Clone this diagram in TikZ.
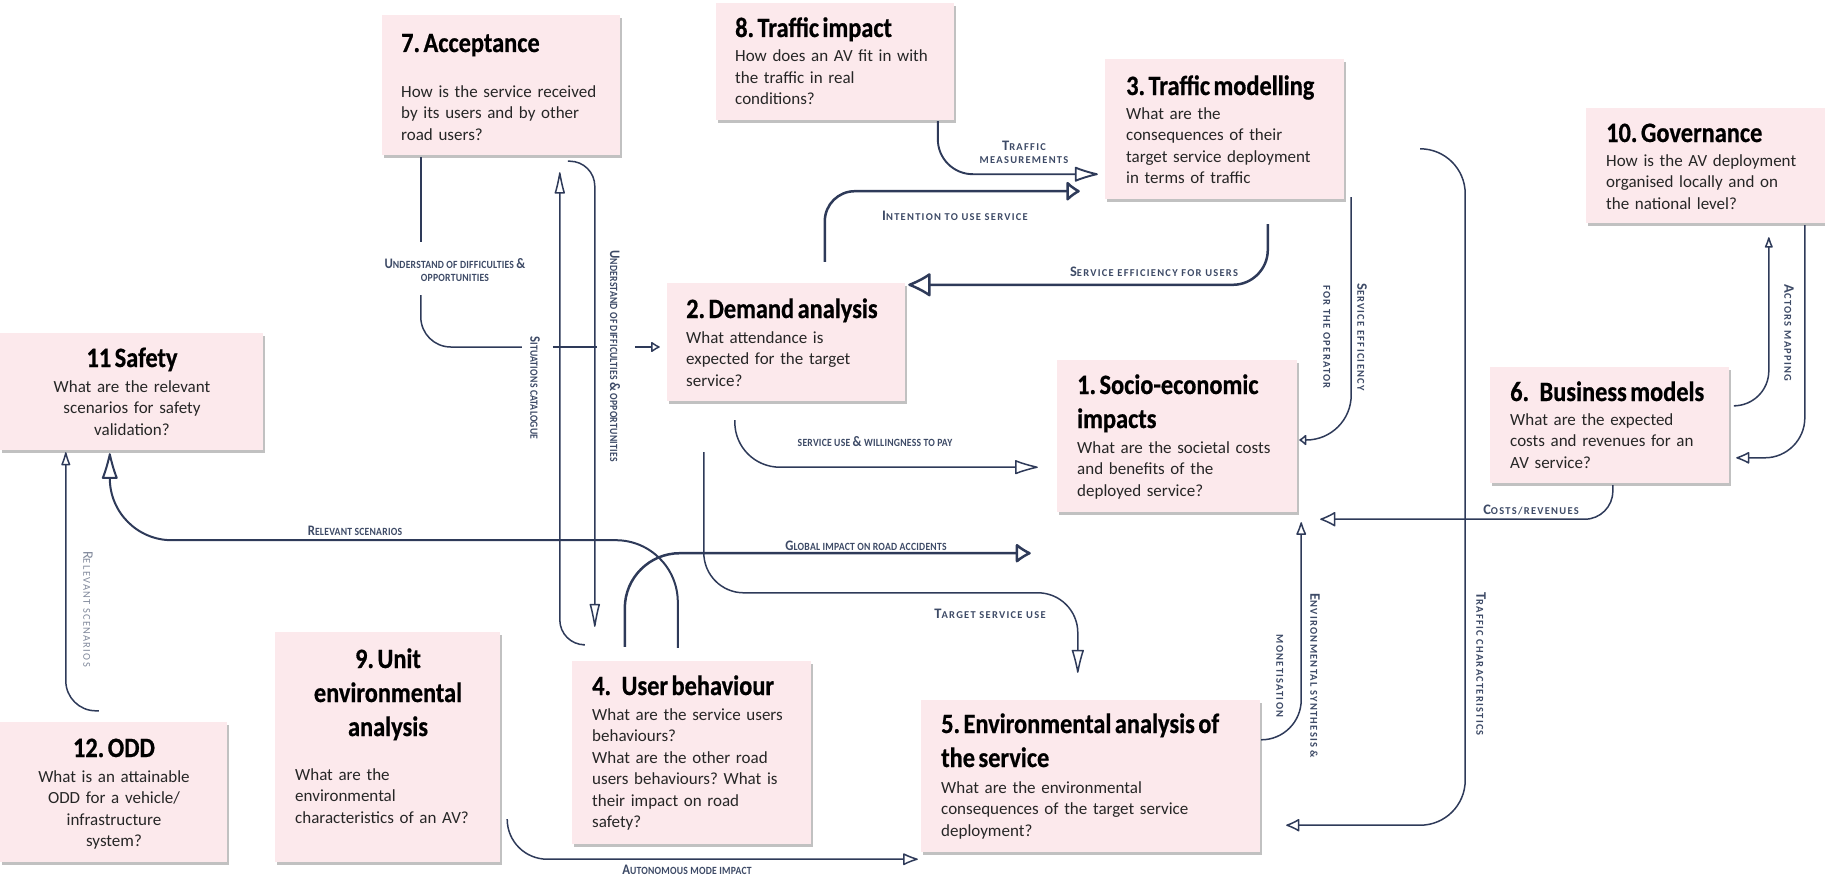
\documentclass[tikz,border=0pt]{standalone}
\usepackage{fontspec}
\setmainfont{Carlito}
\newfontfamily\bodyf{Carlito}
\newfontfamily\titlef[FakeStretch=0.87,FakeBold=0.6]{Carlito}
\newfontfamily\lblcf[FakeStretch=0.88,LetterSpace=2]{Carlito}
\newfontfamily\lblsf[FakeStretch=1.0,LetterSpace=12]{Carlito}
\usetikzlibrary{arrows.meta,shadows,calc}
\definecolor{boxfill}{RGB}{252,233,236}
\definecolor{linec}{RGB}{46,58,89}
\definecolor{labc}{RGB}{61,74,102}
\definecolor{lightlab}{RGB}{130,138,156}
\definecolor{txt}{RGB}{38,38,38}
\frenchspacing
\newcommand\BC[1]{{\fontsize{14.5}{12}\selectfont #1}}
\newcommand\tsp{\hspace{3.5pt}}
\newcommand\titlefont{\titlef\bfseries\fontsize{28}{34}\selectfont}
\begin{document}
\begin{tikzpicture}[x=1pt,y=-1pt,
  box/.style={fill=boxfill, draw=none, inner sep=0pt,
    drop shadow={shadow xshift=1.5pt, shadow yshift=-3pt, opacity=0.35, fill=black!70}},
  titlet/.style={font=\titlefont, text=black, inner sep=0pt, anchor=base west, align=left, text width=340pt},
  titlec/.style={titlet, anchor=base, align=center, text width=240pt},
  bodyt/.style={font=\bodyf\fontsize{17}{21.5}\selectfont\frenchspacing, text=txt, inner sep=0pt, anchor=base west, align=left, text width=320pt},
  bodyc/.style={bodyt, anchor=base, align=center, text width=240pt},
  conn/.style={draw=linec, line width=1.5pt},
  thickc/.style={draw=linec, line width=2.5pt},
  tip/.style args={#1/#2}{-{Latex[open,round,length=#1,width=#2]}},
  lblc/.style={font=\lblcf\bfseries\fontsize{11}{13}\selectfont, text=labc, inner sep=1pt, align=center},
  lbls/.style={font=\lblsf\bfseries\fontsize{10.5}{13}\selectfont, text=labc, inner sep=1pt, align=center},
  lbll/.style={font=\lblsf\fontsize{10.5}{13}\selectfont, text=lightlab, inner sep=1pt, align=center}
]
\useasboundingbox (0,0) rectangle (1825,875);

% ---------- boxes ----------
\node[box, minimum width=238pt, minimum height=140pt] (b7) at (501,85) {};
\node[box, minimum width=238pt, minimum height=117pt] (b8) at (835,61.5) {};
\node[box, minimum width=239pt, minimum height=140pt] (b3) at (1224.5,129) {};
\node[box, minimum width=239pt, minimum height=115pt] (b10) at (1705.5,165.5) {};
\node[box, minimum width=263pt, minimum height=117pt] (b11) at (131.5,391.5) {};
\node[box, minimum width=238pt, minimum height=118pt] (b2) at (786,342) {};
\node[box, minimum width=240pt, minimum height=152pt] (b1) at (1177,436) {};
\node[box, minimum width=239pt, minimum height=116pt] (b6) at (1609.5,425) {};
\node[box, minimum width=225pt, minimum height=230pt] (b9) at (387.5,747) {};
\node[box, minimum width=239pt, minimum height=183pt] (b4) at (691.5,752.5) {};
\node[box, minimum width=339pt, minimum height=152pt] (b5) at (1090.5,776) {};
\node[box, minimum width=227pt, minimum height=140pt] (b12) at (113.5,792) {};

% ---------- texts ----------
\node[titlet] (t7) at (401,52) {7.\tsp Acceptance};
\node[bodyt] (q7) at (401,97) {How is the service received\\by its users and by other\\road users?};
\node[titlet] (t8) at (735,37) {8.\tsp Traffic\tsp impact};
\node[bodyt] (q8) at (735,62) {How does an AV fit in with\\the traffic in real\\conditions?};
\node[titlet] (t3) at (1126,95) {3.\tsp Traffic\tsp modelling};
\node[bodyt] (q3) at (1126,119) {What are the\\consequences of their\\target service deployment\\in terms of traffic};
\node[titlet] (t10) at (1606,142) {10.\tsp Governance};
\node[bodyt] (q10) at (1606,166) {How is the AV deployment\\organised locally and on\\the national level?};
\node[titlet] (t6) at (1510,401) {6.\tsp\tsp\tsp Business\tsp models};
\node[bodyt] (q6) at (1510,425) {What are the expected\\costs and revenues for an\\AV service?};
\node[titlet] (t1) at (1077,394) {1.\tsp Socio-economic\\impacts};
\node[bodyt] (q1) at (1077,453) {What are the societal costs\\and benefits of the\\deployed service?};
\node[titlet] (t2) at (686,318) {2.\tsp Demand\tsp analysis};
\node[bodyt] (q2) at (686,343) {What attendance is\\expected for the target\\service?};
\node[titlec] (t11) at (132,367) {11\tsp Safety};
\node[bodyc] (q11) at (132,392) {What are the relevant\\scenarios for safety\\validation?};
\node[titlec] (t12) at (114,757) {12.\tsp ODD};
\node[bodyc] (q12) at (114,782) {What is an attainable\\ODD for a vehicle/\\infrastructure\\system?};
\node[titlec] (t9) at (388,668) {9.\tsp Unit\\environmental\\analysis};
\node[bodyt] (q9) at (295,780) {What are the\\environmental\\characteristics of an AV?};
\node[titlet] (t4) at (592,695) {4.\tsp\tsp\tsp User\tsp behaviour};
\node[bodyt] (q4) at (592,720) {What are the service users\\behaviours?\\What are the other road\\users behaviours? What is\\their impact on road\\safety?};
\node[titlet] (t5) at (941,733) {5.\tsp Environmental\tsp analysis\tsp of\\the\tsp service};
\node[bodyt] (q5) at (941,793) {What are the environmental\\consequences of the target service\\deployment?};

% ---------- connectors ----------
% A: acceptance -> demand (understand of difficulties)
\draw[conn] ($(b7.south west)+(39,2)$) -- ($(b7.south west)+(39,87)$);
\draw[conn, rounded corners=30pt] ($(b7.south west)+(39,140)$) |- ($(b2.west)+(-145,5)$);
\draw[conn] ($(b2.west)+(-114,5)$) -- ($(b2.west)+(-70,5)$);
\draw[conn, tip=10pt/12pt] ($(b2.west)+(-32,5)$) -- ($(b2.west)+(-7,5)$);
% B: user behaviour -> acceptance (situations catalogue)
\draw[conn, rounded corners=25pt, tip=26pt/11pt] ($(b4.north west)+(11,-16)$) -| ($(b7.south west)+(178,17)$);
% C: acceptance -> user behaviour
\draw[conn, rounded corners=25pt, tip=28pt/11pt] ($(b7.south west)+(186,6)$) -| ($(b4.north west)+(23,-34)$);
% D: user behaviour -> safety (relevant scenarios)
\draw[conn, line width=2pt, rounded corners=62pt, tip=30pt/17pt] ($(b4.north west)+(106,-13)$) |- ($(b11.south west)+(110,90)$) -- ($(b11.south west)+(110,3)$);
% E: ODD -> safety
\draw[conn, rounded corners=30pt, tip=16pt/10pt] ($(b12.north west)+(99,-11)$) -| ($(b11.south west)+(66,2)$);
% F: global impact on road accidents
\draw[thickc, rounded corners=55pt, tip=17pt/22pt] ($(b4.north west)+(53,-14)$) |- ($(b1.south west)+(-26,41)$);
% G: target service use
\draw[conn, rounded corners=40pt, tip=27pt/13pt] ($(b2.south west)+(37,51)$) |- ($(b5.north west)+(157,-107)$) -- ($(b5.north west)+(157,-27)$);
% H: service use & willingness to pay
\draw[conn, rounded corners=45pt, tip=26pt/15pt] ($(b2.south west)+(68,19)$) |- ($(b1.south west)+(-19,-45)$);
% I: autonomous mode impact
\draw[conn, rounded corners=40pt, tip=17pt/13pt] ($(b9.south east)+(7,-42)$) |- ($(b5.south west)+(-3,7)$);
% J: intention to use service
\draw[thickc, rounded corners=30pt, tip=15pt/23pt] ($(b2.north west)+(158,-21)$) |- ($(b3.south west)+(-25,-8)$);
% K: traffic measurements
\draw[conn, line width=1.9pt, rounded corners=35pt, tip=27pt/16pt] ($(b8.south west)+(222,1)$) |- ($(b3.south west)+(-7,-25)$);
% L: service efficiency for users
\draw[thickc, rounded corners=35pt, tip=25pt/26pt] ($(b3.south west)+(163,25)$) |- ($(b2.north east)+(3,2)$);
% M: service efficiency for the operator
\draw[conn, rounded corners=45pt, tip=8pt/13pt] ($(b3.south east)+(7,-2)$) |- ($(b1.east)+(2,4)$);
% N: costs/revenues
\draw[conn, rounded corners=28pt, tip=17pt/16pt] ($(b6.south west)+(123,2)$) |- ($(b1.south east)+(23,7)$);
% O: environmental synthesis & monetisation
\draw[conn, rounded corners=40pt, tip=15pt/11pt] ($(b5.north east)+(1,40)$) -| ($(b1.south east)+(4,10)$);
% P: traffic characteristics
\draw[conn, rounded corners=45pt, tip=15pt/14pt] ($(b3.north east)+(80,90)$) -| ($(b5.south east)+(205,-27)$) -- ($(b5.south east)+(26,-27)$);
% Q: actors mapping
\draw[conn, rounded corners=35pt, tip=13pt/9pt] ($(b6.north east)+(7,39)$) -| ($(b10.south west)+(183,14)$);
\draw[conn, rounded corners=40pt, tip=15pt/13pt] ($(b10.south west)+(219,2)$) |- ($(b6.north east)+(7,91)$);

% ---------- labels ----------
\node[lblc] (l1) at (455,270) {\BC{U}NDERSTAND OF DIFFICULTIES \BC{\&}\\OPPORTUNITIES};
\node[lblc, rotate=-90] (l2) at (535,388) {\BC{S}ITUATIONS CATALOGUE};
\node[lblc, rotate=-90] (l3) at (615,356) {\BC{U}NDERSTAND OF DIFFICULTIES \BC{\&} OPPORTUNITIES};
\node[lblc] (l4) at (355,531) {\BC{R}ELEVANT SCENARIOS};
\node[lbll, rotate=-90] (l5) at (88,609) {\BC{R}ELEVANT SCENARIOS};
\node[lblc] (l6) at (875,442) {SERVICE USE \BC{\&} WILLINGNESS TO PAY};
\node[lblc] (l7) at (866,546) {\BC{G}LOBAL IMPACT ON ROAD ACCIDENTS};
\node[lbls] (l8) at (990,614) {\BC{T}ARGET SERVICE USE};
\node[lblc] (l9) at (687,870) {\BC{A}UTONOMOUS MODE IMPACT};
\node[lbls] (l10) at (1024,152) {\BC{T}RAFFIC\\MEASUREMENTS};
\node[lbls] (l11) at (955,216) {\BC{I}NTENTION TO USE SERVICE};
\node[lbls] (l12) at (1154,272) {\BC{S}ERVICE EFFICIENCY FOR USERS};
\node[lbls, rotate=-90, font=\lblsf\bfseries\fontsize{10.5}{34}\selectfont] (l13) at (1345,337) {\BC{S}ERVICE EFFICIENCY\\FOR THE OPERATOR};
\node[lbls] (l14) at (1531,510) {\BC{C}OSTS/REVENUES};
\node[lbls, rotate=-90] (l15) at (1789,333) {\BC{A}CTORS MAPPING};
\node[lbls, rotate=-90, font=\lblsf\bfseries\fontsize{10.5}{34}\selectfont] (l16) at (1298,676) {\BC{E}NVIRONMENTAL SYNTHESIS \&\\MONETISATION};
\node[lbls, rotate=-90] (l17) at (1481,664) {\BC{T}RAFFIC CHARACTERISTICS};
\end{tikzpicture}
\end{document}
